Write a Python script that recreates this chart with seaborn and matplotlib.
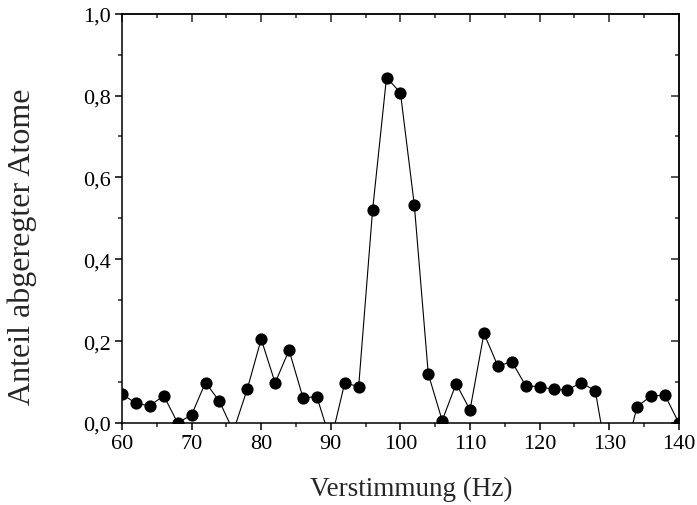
import numpy as np
import pandas as pd
import seaborn as sns
import matplotlib
matplotlib.use("Agg")
import matplotlib.pyplot as plt
from matplotlib.ticker import MultipleLocator, FuncFormatter

freq = [60, 62, 64, 66, 68, 70, 72, 74, 76, 78, 80, 82, 84, 86, 88, 90,
        92, 94, 96, 98, 100, 102, 104, 106, 108, 110, 112, 114, 116, 118,
        120, 122, 124, 126, 128, 130, 132, 134, 136, 138, 140]
anteil = [0.071, 0.048, 0.042, 0.067, 0.0, 0.020, 0.099, 0.053, -0.020, 0.083,
          0.205, 0.098, 0.178, 0.062, 0.064, -0.045, 0.098, 0.089, 0.520, 0.844,
          0.807, 0.532, 0.120, 0.006, 0.096, 0.032, 0.219, 0.139, 0.150, 0.091,
          0.089, 0.082, 0.081, 0.099, 0.078, -0.117, -0.093, 0.040, 0.066, 0.068,
          0.0]

x_ticks = [60, 70, 80, 90, 100, 110, 120, 130, 140]
y_ticks = [0.0, 0.2, 0.4, 0.6, 0.8, 1.0]

sns.set_style("ticks")
plt.rcParams['font.family'] = ['Liberation Serif', 'DejaVu Serif']
plt.rcParams['axes.linewidth'] = 1.1

fig = plt.figure(figsize=(6.97, 5.06), dpi=100)
ax = fig.add_axes([0.175, 0.162, 0.799, 0.809])

df = pd.DataFrame({"f": freq, "a": anteil})
sns.lineplot(data=df, x="f", y="a", ax=ax, color="black", lw=0.8,
             marker="o", markersize=8.8, markeredgewidth=0,
             markerfacecolor="black", sort=False)

ax.set_xlim(60, 140)
ax.set_ylim(0, 1.0)
ax.set_xticks(x_ticks)
ax.set_yticks(y_ticks)
ax.xaxis.set_minor_locator(MultipleLocator(5))
ax.yaxis.set_minor_locator(MultipleLocator(0.1))
ax.yaxis.set_major_formatter(FuncFormatter(lambda v, p: f"{v:.1f}".replace(".", ",")))
ax.xaxis.set_major_formatter(FuncFormatter(lambda v, p: f"{int(round(v))}"))

ax.tick_params(which="major", direction="out", length=5, width=1.1,
               labelsize=16, colors="black", pad=3)
ax.tick_params(which="minor", direction="out", length=3, width=1.1)

for s in ax.spines.values():
    s.set_visible(True)
    s.set_color("black")
    s.set_linewidth(1.1)

# mirrored inward ticks on top and right
secx = ax.secondary_xaxis("top")
secx.set_xticks(x_ticks)
secx.xaxis.set_minor_locator(MultipleLocator(5))
secx.tick_params(which="major", direction="in", length=6, width=1.1, labeltop=False)
secx.tick_params(which="minor", direction="in", length=3, width=1.1)
secx.set_xticklabels([])
secy = ax.secondary_yaxis("right")
secy.set_yticks(y_ticks)
secy.yaxis.set_minor_locator(MultipleLocator(0.1))
secy.tick_params(which="major", direction="in", length=6, width=1.1, labelright=False)
secy.tick_params(which="minor", direction="in", length=3, width=1.1)
secy.set_yticklabels([])

ax.set_xlabel("Verstimmung (Hz)", fontsize=19.5)
ax.set_ylabel("Anteil abgeregter Atome", fontsize=23)
ax.xaxis.set_label_coords(0.519, -0.130)
ax.yaxis.set_label_coords(-0.152, 0.432)

fig.savefig("out.png", dpi=100)
